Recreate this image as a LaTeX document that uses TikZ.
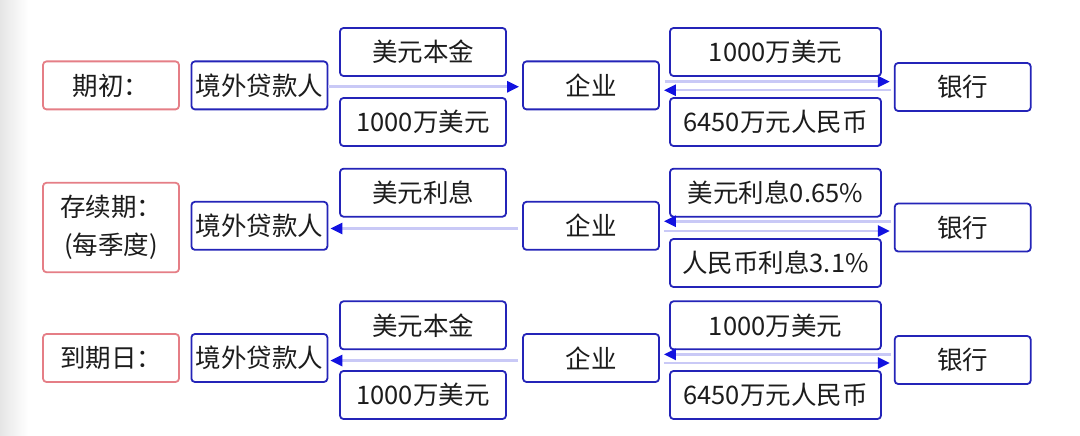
\documentclass[tikz,border=0pt]{standalone}
\usepackage{fontspec}
\setmainfont{Noto Sans CJK SC}
\usetikzlibrary{arrows.meta,calc}
\definecolor{boxblue}{HTML}{2424B8}
\definecolor{tipblue}{HTML}{1212E0}
\definecolor{lineblue}{HTML}{C9C9F6}
\definecolor{labred}{HTML}{E57E86}
\definecolor{txt}{HTML}{1C1C1C}
\begin{document}
\begin{tikzpicture}[x=1pt,y=-1pt,
  base/.style={rounded corners=3.5pt, line width=1.8pt, inner sep=0pt, minimum height=48pt, font=\fontsize{25.5}{38}\selectfont, text=txt, align=center},
  lab/.style={base, draw=labred, minimum width=136pt},
  ent/.style={base, draw=boxblue, minimum width=136pt},
  amtl/.style={base, draw=boxblue, minimum width=166pt},
  amtr/.style={base, draw=boxblue, minimum width=211pt},
  flow/.style={draw=lineblue, line width=2.6pt, -{Triangle[length=12pt,width=11pt,color=tipblue]}}
]
\useasboundingbox (0,0) rectangle (1080,436);
\fill[white] (0,0) rectangle (1080,436);
\shade[left color=black!10, right color=white] (0,0) rectangle (28,436);

% Row 1
\node[lab] (L1) at (111,85.4) {期初：};
\node[ent] (A1) at (259.4,85.4) {境外贷款人};
\node[amtl] (T1L) at (423,52) {美元本金};
\node[amtl] (B1L) at (423,122) {1000万美元};
\node[ent] (E1) at (591,85.4) {企业};
\node[amtr] (T1R) at (775.5,52) {1000万美元};
\node[amtr] (B1R) at (775.5,122) {6450万元人民币};
\node[ent] (K1) at (962.7,87) {银行};
\coordinate (a1) at ($(A1.east)+(0,1.4)$);
\draw[flow,shorten >=3pt] (a1) -- (a1 -| E1.west);
\coordinate (r1t) at ($(E1.east)+(5,-3.8)$);
\draw[flow,shorten >=4pt] (r1t) -- (r1t -| K1.west);
\coordinate (r1b) at ($(K1.west)+(-3,3.2)$);
\draw[flow,shorten >=4pt] (r1b) -- (r1b -| E1.east);

% Row 2
\node[lab,minimum height=89.5pt] (L2) at (111,227.5) {存续期：\\(每季度)};
\node[ent] (A2) at (259.4,225.8) {境外贷款人};
\node[amtl] (T2L) at (423,192.7) {美元利息};
\node[ent] (E2) at (591,225.8) {企业};
\node[amtr] (T2R) at (775.5,192.7) {美元利息0.65\%};
\node[amtr] (B2R) at (775.5,263) {人民币利息3.1\%};
\node[ent] (K2) at (962.7,227.5) {银行};
\coordinate (a2) at ($(E2.west)+(-4,2.7)$);
\draw[flow,shorten >=2pt] (a2) -- (a2 -| A2.east);
\coordinate (r2t) at ($(K2.west)+(-3,-6.2)$);
\draw[flow,shorten >=4pt] (r2t) -- (r2t -| E2.east);
\coordinate (r2b) at ($(E2.east)+(4,5.2)$);
\draw[flow,shorten >=4pt] (r2b) -- (r2b -| K2.west);

% Row 3
\node[lab] (L3) at (111,358) {到期日：};
\node[ent] (A3) at (259.4,358) {境外贷款人};
\node[amtl] (T3L) at (423,325.3) {美元本金};
\node[amtl] (B3L) at (423,395) {1000万美元};
\node[ent] (E3) at (591,358) {企业};
\node[amtr] (T3R) at (775.5,325.3) {1000万美元};
\node[amtr] (B3R) at (775.5,395) {6450万元人民币};
\node[ent] (K3) at (962.7,360) {银行};
\coordinate (a3) at ($(E3.west)+(-4,2.6)$);
\draw[flow,shorten >=2pt] (a3) -- (a3 -| A3.east);
\coordinate (r3t) at ($(K3.west)+(-3,-5.6)$);
\draw[flow,shorten >=4pt] (r3t) -- (r3t -| E3.east);
\coordinate (r3b) at ($(E3.east)+(4,5)$);
\draw[flow,shorten >=4pt] (r3b) -- (r3b -| K3.west);
\end{tikzpicture}
\end{document}
